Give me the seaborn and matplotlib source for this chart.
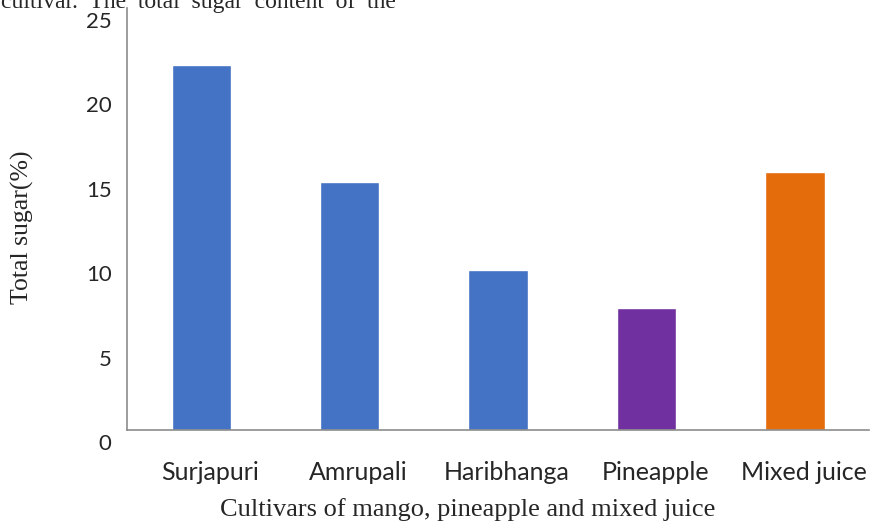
import matplotlib
matplotlib.use("Agg")
import matplotlib.pyplot as plt
import matplotlib.transforms as mtransforms
import seaborn as sns
import pandas as pd

# Total sugar (%) by cultivar / juice
cultivars = ["Surjapuri", "Amrupali", "Haribhanga", "Pineapple", "Mixed juice"]
total_sugar = [21.6, 14.7, 9.5, 7.2, 15.3]
bar_colors = ["#4472C4", "#4472C4", "#4472C4", "#7030A0", "#E46C0A"]
y_ticks = [0, 5, 10, 15, 20, 25]

df = pd.DataFrame({"cultivar": cultivars, "sugar": total_sugar})

sns.set_theme(style="white")
plt.rcParams["font.family"] = ["Lato", "DejaVu Sans"]

fig = plt.figure(figsize=(8.71, 5.25), dpi=100)
ax = fig.add_axes([0.1458, 0.181, 0.852, 0.804])

sns.barplot(data=df, x="cultivar", y="sugar", hue="cultivar",
            palette=bar_colors, width=0.40, saturation=1,
            legend=False, ax=ax)

ax.set_ylim(0, 25)
ax.set_xlim(-0.5, len(cultivars) - 0.5)
ax.set_yticks(y_ticks)
ax.set_yticklabels([str(t) for t in y_ticks], fontsize=16)

# category boundary ticks on the x axis, labels centred under each bar
ax.set_xticks([i - 0.5 for i in range(len(cultivars) + 1)])
ax.set_xticklabels([])
ax.set_xticks(range(len(cultivars)), minor=True)
ax.set_xticklabels(cultivars, minor=True, fontsize=18)
ax.tick_params(axis="x", which="minor", length=0, pad=22)
ax.tick_params(axis="x", which="major", length=8, width=1, color="#8c8c8c", direction="out")
ax.tick_params(axis="y", length=6, width=1, color="#8c8c8c", direction="out", pad=5)

# y tick labels sit slightly below their tick marks
shift_y = mtransforms.ScaledTranslation(0, -12 / 100, fig.dpi_scale_trans)
for lbl in ax.get_yticklabels():
    lbl.set_transform(lbl.get_transform() + shift_y)
# category labels sit a little right of the bar centres
shift_x = mtransforms.ScaledTranslation(9 / 100, 0, fig.dpi_scale_trans)
for lbl in ax.get_xticklabels(minor=True):
    lbl.set_transform(lbl.get_transform() + shift_x)

for side in ["top", "right"]:
    ax.spines[side].set_visible(False)
for side in ["left", "bottom"]:
    ax.spines[side].set_color("#8c8c8c")
    ax.spines[side].set_linewidth(1.2)

ax.set_xlabel("")
ax.set_ylabel("")

serif = ["Liberation Serif", "DejaVu Serif"]
fig.text(0.537, 0.029, "Cultivars of mango, pineapple and mixed juice",
         ha="center", va="center", fontsize=19, family=serif)
fig.text(0.026, 0.568, "Total sugar(%)", rotation=90,
         ha="center", va="center", fontsize=18.5, family=serif)
fig.text(0.001, 0.985, "cultivar.  The  total  sugar  content  of  the",
         ha="left", va="baseline", fontsize=17, family=serif)

fig.savefig("out.png", dpi=100, facecolor="white")
